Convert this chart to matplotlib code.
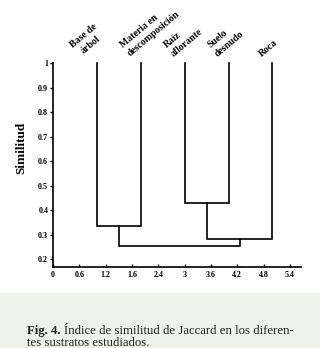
import matplotlib
matplotlib.use("Agg")
import matplotlib.pyplot as plt
from matplotlib.patches import Rectangle

# Leaves of the dendrogram (left to right)
leaf_labels = ["Base de\nárbol", "Materia en\ndescomposición", "Raíz\naflorante",
               "Suelo\ndesnudo", "Roca"]
leaf_x = [1, 2, 3, 4, 5]
leaf_top = 1.0

# Merges: (left node, right node, similarity); new nodes get indices 5, 6, ...
merges = [(0, 1, 0.335), (2, 3, 0.43), (6, 4, 0.283), (5, 7, 0.253)]

x_ticks = [0, 0.6, 1.2, 1.8, 2.4, 3.0, 3.6, 4.2, 4.8, 5.4]
x_tick_labels = ["0", "0.6", "1.2", "1.6", "2.4", "3", "3.6", "4.2", "4.8", "5.4"]
y_ticks = [0.2, 0.3, 0.4, 0.5, 0.6, 0.7, 0.8, 0.9, 1.0]
y_tick_labels = ["0.2", "0.3", "0.4", "0.5", "0.6", "0.7", "0.8", "0.9", "1"]

serif = "Liberation Serif"

fig = plt.figure(figsize=(3.2, 3.48), dpi=100)
fig.patch.set_facecolor("white")

# Caption band
fig.patches.append(Rectangle((0, 0), 1, 55 / 348, transform=fig.transFigure,
                             facecolor="#eef3e9", edgecolor="none", zorder=0))

ax = fig.add_axes([53 / 320, 81.3 / 348, 248 / 320, 203.7 / 348])
ax.set_facecolor("none")

# Draw dendrogram
node_x = list(leaf_x)
node_y = [leaf_top] * len(leaf_x)
for a, b, h in merges:
    xs = [node_x[a], node_x[a], node_x[b], node_x[b]]
    ys = [node_y[a], h, h, node_y[b]]
    ax.plot(xs, ys, color="black", lw=1.2, solid_joinstyle="miter", clip_on=False)
    node_x.append((node_x[a] + node_x[b]) / 2)
    node_y.append(h)

# Leaf labels
for i, (x, lab) in enumerate(zip(leaf_x, leaf_labels)):
    dx = -0.36 if i == 0 else -0.22
    ax.text(x + dx, 1.02, lab, rotation=40, rotation_mode="anchor",
            ha="left", va="bottom", multialignment="center" if i == 0 else "left",
            fontsize=7, fontweight="bold", family=serif, linespacing=1.25,
            clip_on=False)

ax.set_xlim(0, 5.65)
ax.set_ylim(0.169, 1.0)
ax.set_xticks(x_ticks)
ax.set_xticklabels(x_tick_labels)
ax.set_yticks(y_ticks)
ax.set_yticklabels(y_tick_labels)
for lab in ax.get_xticklabels() + ax.get_yticklabels():
    lab.set_fontfamily(serif)
    lab.set_fontweight("bold")
    lab.set_fontsize(5.8)
ax.tick_params(axis="x", direction="in", length=2, width=1, pad=3)
ax.tick_params(axis="y", direction="out", length=2, width=1, pad=1.5)

ax.spines["top"].set_visible(False)
ax.spines["right"].set_visible(False)
ax.spines["left"].set_linewidth(1.2)
ax.spines["bottom"].set_linewidth(1.2)

ax.set_ylabel("Similitud", fontsize=9.5, fontweight="bold", family=serif)
ax.yaxis.set_label_coords(-0.105, 0.583)

# Caption
cap_size = 9.2
t1 = fig.text(27 / 320, 1 - 331 / 348, "Fig. 4.", fontsize=cap_size,
              fontweight="bold", family=serif, va="center", color="#222222")
fig.canvas.draw()
bb = t1.get_window_extent(renderer=fig.canvas.get_renderer())
fig.text(bb.x1 / 320 + 3 / 320, 1 - 331 / 348,
         "Índice de similitud de Jaccard en los diferen-",
         fontsize=cap_size, family=serif, va="center", color="#222222")
fig.text(27 / 320, 1 - 343 / 348, "tes sustratos estudiados.",
         fontsize=cap_size, family=serif, va="center", color="#222222")

fig.savefig("out.png", dpi=100)
